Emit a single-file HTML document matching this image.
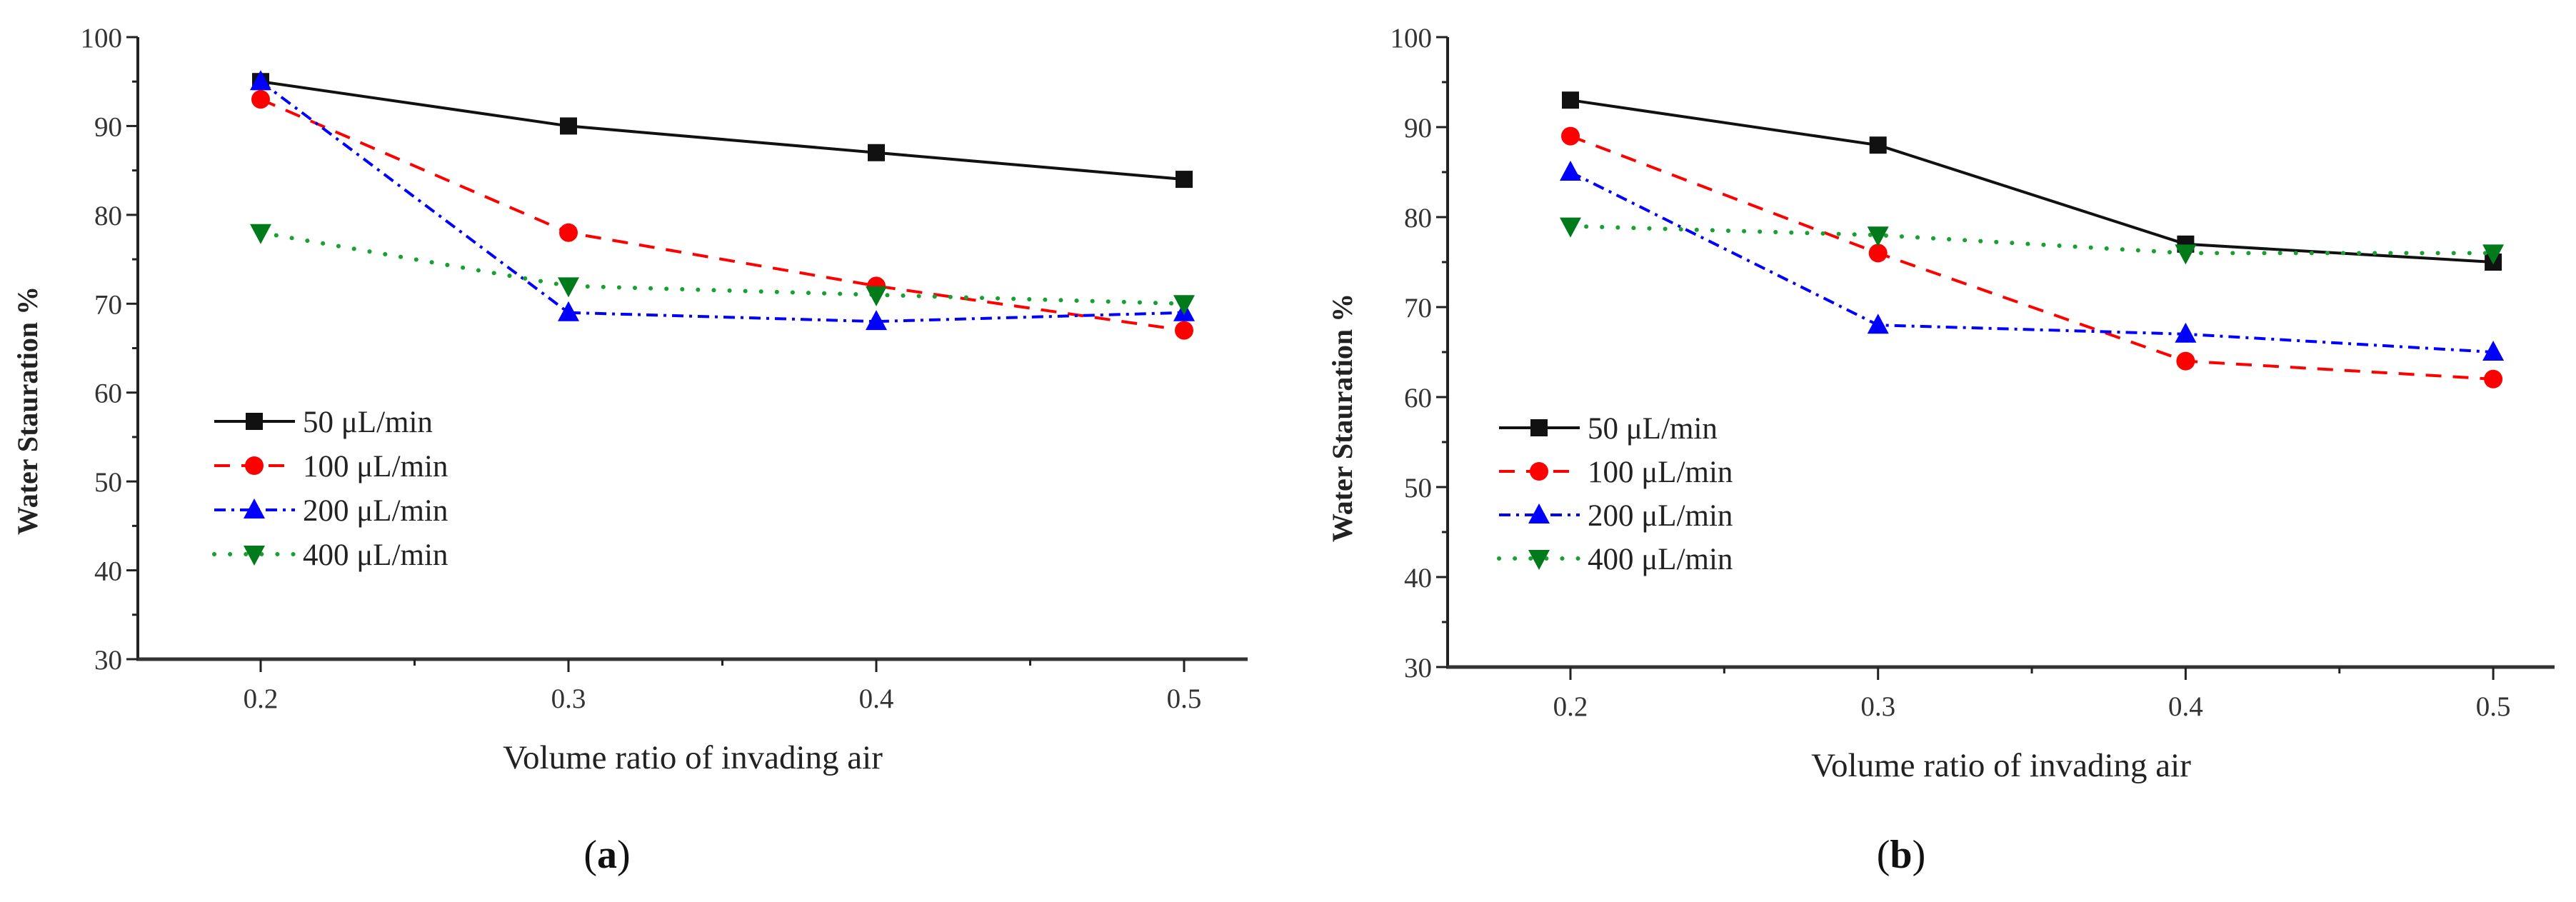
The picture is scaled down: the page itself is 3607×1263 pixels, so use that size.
<!DOCTYPE html>
<html><head><meta charset="utf-8"><style>
html,body{margin:0;padding:0;background:#fff;}
svg{display:block;font-family:"Liberation Serif",serif;}
</style></head><body>
<svg id="c" width="3607" height="1263" viewBox="0 0 3607 1263" xmlns="http://www.w3.org/2000/svg"></svg>
<script>
const xCats=[0.2,0.3,0.4,0.5];
const yTicks=[30,40,50,60,70,80,90,100];
const xTickLabels=["0.2","0.3","0.4","0.5"];
const seriesNames=["50 μL/min","100 μL/min","200 μL/min","400 μL/min"];
const a50=[95,90,87,84];
const a100=[93,78,72,67];
const a200=[95,69,68,69];
const a400=[78,72,71,70];
const b50=[93,88,77,75];
const b100=[89,76,64,62];
const b200=[85,68,67,65];
const b400=[79,78,76,76];

const NS="http://www.w3.org/2000/svg";
const svg=document.getElementById('c');
function el(t,at,p){const e=document.createElementNS(NS,t);for(const k in at)e.setAttribute(k,at[k]);(p||svg).appendChild(e);return e;}
const styles=[
 {color:"#111",dash:"",marker:"square",cap:"butt"},
 {color:"#ff0000",dash:"22 16",marker:"circle",cap:"butt"},
 {color:"#0000ff",dash:"16 8 4 8",marker:"up",cap:"butt"},
 {color:"#18a030",dash:"0.1 22",marker:"down",cap:"round",mcolor:"#007a1a"}
];
function marker(g,type,x,y,col){
  let m;
  if(type==="square") m=el('rect',{x:x-12,y:y-12,width:24,height:24,fill:col},g);
  else if(type==="circle") m=el('circle',{cx:x,cy:y,r:13,fill:col},g);
  else if(type==="up") m=el('polygon',{points:`${x},${y-16} ${x-15},${y+12} ${x+15},${y+12}`,fill:col},g);
  else m=el('polygon',{points:`${x},${y+16} ${x-15},${y-12} ${x+15},${y-12}`,fill:col},g);
  
  
}
function panel(cfg){
  const {name,ax,ay,top,x02,dx,xend,series,leg,title,letter}=cfg;
  const g=el('g',{});
  
  
  const ys=(ay-top)/70;
  const Y=v=>ay-(v-30)*ys;
  const X=v=>x02+(v-0.2)/0.1*dx;
  const yax=el('line',{x1:ax,y1:top,x2:ax,y2:ay,stroke:"#222","stroke-width":4},g);
  
  const xax=el('line',{x1:ax-2,y1:ay,x2:xend,y2:ay,stroke:"#333","stroke-width":5},g);
  
  yTicks.forEach(v=>{
    el('line',{x1:ax-16,y1:Y(v),x2:ax,y2:Y(v),stroke:"#222","stroke-width":3},g);
    if(v<100) el('line',{x1:ax-8,y1:Y(v+5),x2:ax,y2:Y(v+5),stroke:"#222","stroke-width":3},g);
    const t=el('text',{x:ax-22,y:Y(v)+14,"text-anchor":"end","font-size":39,fill:"#333"},g);
    t.textContent=v;
    
  });
  xCats.forEach((v,i)=>{
    el('line',{x1:X(v),y1:ay,x2:X(v),y2:ay+18,stroke:"#222","stroke-width":3},g);
    if(i<3) el('line',{x1:X(v+0.05),y1:ay,x2:X(v+0.05),y2:ay+9,stroke:"#222","stroke-width":3},g);
    const t=el('text',{x:X(v),y:ay+68,"text-anchor":"middle","font-size":39,fill:"#333"},g);
    t.textContent=xTickLabels[i];
    
  });
  series.forEach((d,si)=>{
    const s=styles[si];
    const pts=d.map((v,i)=>X(xCats[i])+","+Y(v)).join(" ");
    const pl=el('polyline',{points:pts,fill:"none",stroke:s.color,"stroke-width":s.cap==="round"?6:4,"stroke-dasharray":s.dash,"stroke-linecap":s.cap},g);
    
    
    d.forEach((v,i)=>marker(g,s.marker,X(xCats[i]),Y(v),s.mcolor||s.color));
  });
  seriesNames.forEach((n,si)=>{
    const s=styles[si];const y=leg.y0+si*leg.dy;
    const lg=el('g',{},g);
    
    el('line',{x1:leg.x,y1:y,x2:leg.x+113,y2:y,stroke:s.color,"stroke-width":s.cap==="round"?6:4,"stroke-dasharray":s.dash,"stroke-linecap":s.cap},lg);
    marker(lg,s.marker,leg.x+56,y,s.mcolor||s.color);
    const t=el('text',{x:leg.x+124,y:y+15,"font-size":43,fill:"#222"},lg);
    t.textContent=n;
  });
  const xt=el('text',{x:(ax+xend)/2,y:ay+153,"text-anchor":"middle","font-size":47,fill:"#222"},g);
  xt.textContent="Volume ratio of invading  air";
  
  const yt=el('text',{x:0,y:0,"text-anchor":"middle","font-size":40,"font-weight":"bold",fill:"#222",transform:`translate(${title.x},${title.y}) rotate(-90)`},g);
  yt.textContent="Water Stauration %";
  
  const lt=el('text',{x:letter.x,y:1215,"text-anchor":"middle","font-size":56,fill:"#111"},g);
  lt.innerHTML='(<tspan font-weight="bold">'+letter.c+'</tspan>)';
  
}
panel({name:"chart-a",ax:193,ay:923,top:52,x02:365,dx:431,xend:1747,series:[a50,a100,a200,a400],leg:{x:300,y0:590,dy:62},title:{x:52,y:575},letter:{x:850,c:"a"}});
panel({name:"chart-b",ax:2027,ay:934,top:52,x02:2199,dx:430.7,xend:3577,series:[b50,b100,b200,b400],leg:{x:2099,y0:599,dy:61},title:{x:1893,y:585},letter:{x:2662,c:"b"}});
</script>
</body></html>
